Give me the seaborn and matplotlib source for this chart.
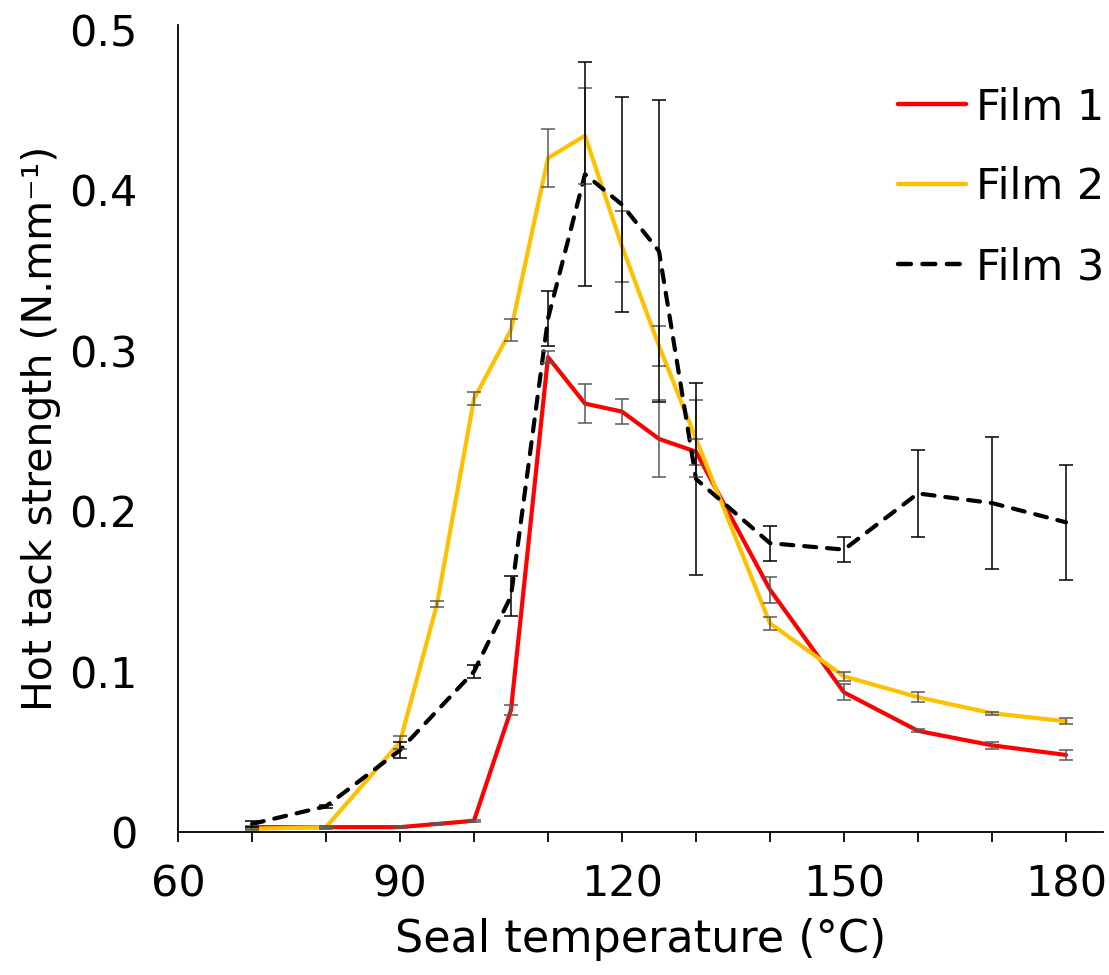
#!/usr/bin/env python3
"""Hot tack strength vs seal temperature for three films"""

import matplotlib
matplotlib.use("Agg")
import matplotlib.pyplot as plt
from matplotlib.ticker import MultipleLocator
import numpy as np
import pandas as pd
import seaborn as sns

# data
temps = [70, 80, 90, 95, 100, 105, 110, 115, 120, 125, 130, 140, 150, 160, 170, 180]

film1 = [0.003, 0.003, 0.003, 0.005, 0.007, 0.076, 0.296, 0.267, 0.262, 0.245,
         0.237, 0.151, 0.087, 0.063, 0.054, 0.048]
film1_err = [0.001, 0.0005, 0.0005, 0.0005, 0.0005, 0.003, 0.004, 0.012, 0.008,
             0.024, 0.008, 0.008, 0.005, 0.001, 0.002, 0.003]

film2 = [0.002, 0.003, 0.056, 0.142, 0.270, 0.313, 0.420, 0.434, 0.365, 0.303,
         0.245, 0.130, 0.097, 0.084, 0.074, 0.069]
film2_err = [0.001, 0.001, 0.004, 0.002, 0.004, 0.007, 0.018, 0.030, 0.022,
             0.0125, 0.024, 0.004, 0.003, 0.003, 0.001, 0.002]

# film 3 has no reading at 95 degC
film3 = [0.005, 0.016, 0.051, np.nan, 0.100, 0.147, 0.320, 0.410, 0.391, 0.362,
         0.220, 0.180, 0.176, 0.211, 0.205, 0.193]
film3_err = [0.002, 0.001, 0.005, np.nan, 0.004, 0.0125, 0.017, 0.070, 0.067,
             0.094, 0.060, 0.011, 0.008, 0.027, 0.041, 0.036]

films = ["Film 1", "Film 2", "Film 3"]
colors = {"Film 1": "#FF0000", "Film 2": "#FFC000", "Film 3": "#000000"}
err_colors = {"Film 1": "#595959", "Film 2": "#595959", "Film 3": "#000000"}

frames = []
for name, vals, errs in zip(films, [film1, film2, film3],
                            [film1_err, film2_err, film3_err]):
    frames.append(pd.DataFrame({"temp": temps, "strength": vals,
                                "err": errs, "film": name}))
df = pd.concat(frames, ignore_index=True).dropna()

sns.set_theme(style="white", rc={"text.color": "black",
                                 "axes.labelcolor": "black",
                                 "xtick.color": "black",
                                 "ytick.color": "black"})
plt.rcParams["font.family"] = ["DejaVu Sans"]

fig = plt.figure(figsize=(11.09, 9.75), dpi=100)
ax = fig.add_axes([0.1605, 0.1467, 0.9946 - 0.1605, 0.9744 - 0.1467])

sns.lineplot(data=df, x="temp", y="strength", hue="film", style="film",
             palette=colors, dashes={"Film 1": "", "Film 2": "",
                                     "Film 3": (2.9, 2.6)},
             linewidth=3.0, ax=ax, zorder=2)
ax.get_lines()[2].set_dash_capstyle("round")

for name in films:
    sub = df[df["film"] == name]
    ax.errorbar(sub["temp"], sub["strength"], yerr=sub["err"], fmt="none",
                ecolor=err_colors[name], elinewidth=1.1, capsize=5,
                capthick=1.1, zorder=3)

ax.set_xlim(60, 185)
ax.set_ylim(0, 0.503)
ax.xaxis.set_major_locator(MultipleLocator(30))
ax.xaxis.set_minor_locator(MultipleLocator(10))
ax.set_yticks([0, 0.1, 0.2, 0.3, 0.4, 0.5])
ax.set_yticklabels(["0", "0.1", "0.2", "0.3", "0.4", "0.5"])

for side in ["top", "right"]:
    ax.spines[side].set_visible(False)
for side in ["left", "bottom"]:
    ax.spines[side].set_color("black")
    ax.spines[side].set_linewidth(1.3)

ax.tick_params(axis="x", which="both", direction="out", length=7, width=1.3,
               color="black", bottom=True, labelsize=31, pad=16)
ax.tick_params(axis="y", which="both", left=False, labelsize=31, pad=23)

ax.set_xlabel("Seal temperature (°C)", fontsize=32, labelpad=9)
ax.set_ylabel("Hot tack strength (N.mm⁻¹)", fontsize=29.5, labelpad=6)

leg = ax.legend(loc="upper right", bbox_to_anchor=(1.02, 0.945),
                frameon=False, fontsize=31, handlelength=1.58,
                handletextpad=0.23, labelspacing=0.88, borderaxespad=0)
for h in leg.get_lines():
    h.set_linewidth(3.2)
leg.get_lines()[2].set_dash_capstyle("round")

fig.savefig("out.png", dpi=100)
